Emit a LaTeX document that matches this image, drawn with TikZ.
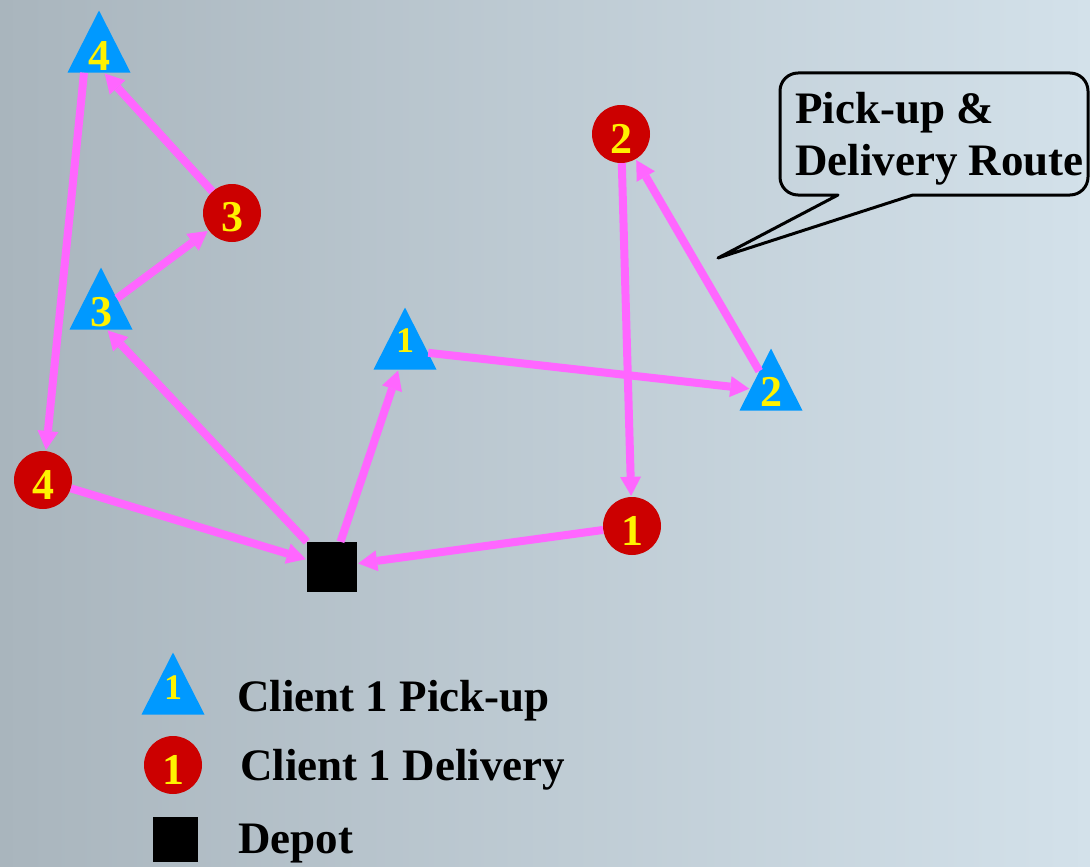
\documentclass[tikz,border=0pt]{standalone}
\usepackage{fontspec}
\setmainfont{Liberation Serif}
\usetikzlibrary{shapes.geometric, arrows.meta}

\definecolor{bgleft}{RGB}{169,181,189}
\definecolor{bgright}{RGB}{211,225,234}
\definecolor{pickblue}{RGB}{0,153,255}
\definecolor{dropred}{RGB}{204,0,0}
\definecolor{routepink}{RGB}{255,102,255}

\tikzset{
  num/.style={text=yellow, inner sep=0pt, font=\bfseries\fontsize{44}{44}\selectfont},
  smallnum/.style={num, font=\bfseries\fontsize{36}{36}\selectfont},
  pickup/.style={isosceles triangle, isosceles triangle stretches, shape border rotate=90,
    minimum width=63pt, minimum height=62pt, inner sep=0pt, fill=pickblue, anchor=apex},
  drop/.style={circle, minimum size=58pt, inner sep=0pt, fill=dropred, num, text height=38pt},
  depotbox/.style={rectangle, minimum size=50pt, inner sep=0pt, fill=black},
  route/.style={draw=routepink, fill=routepink, line width=8pt, shorten >=1pt,
    -{Triangle[length=19pt, width=21pt, line width=0pt]}},
  legend/.style={anchor=base west, inner sep=0pt, font=\bfseries\fontsize{45}{45}\selectfont},
}

\begin{document}
\begin{tikzpicture}[x=1pt, y=-1pt]
    \shade[left color=bgleft, right color=bgright] (0,0) rectangle (1090,867);

    % pick-ups, deliveries and the depot
    \node[pickup, label={[num, anchor=base, yshift=2pt]south:4}] (p4) at (99,10) {};
    \node[pickup, label={[num, anchor=base, yshift=3pt]south:3}] (p3) at (101,267) {};
    \node[pickup, label={[smallnum, anchor=base, yshift=17pt]south:1}] (p1) at (405,307) {};
    \node[pickup, label={[num, anchor=base, yshift=4pt]south:2}] (p2) at (771,348) {};
    \node[drop] (d3) at (232,213) {3};
    \node[drop] (d2) at (621,134) {2};
    \node[drop] (d4) at (43,480) {4};
    \node[drop] (d1) at (632,526) {1};
    \node[depotbox] (depot) at (332,567) {};

    \path[every edge/.style={route}]
      (depot) edge (p1)
      (p1) edge (p2)
      (p2) edge (d2)
      (d2) edge (d1)
      (d1) edge (depot)
      (depot.north west) edge ([xshift=6pt]p3.south)
      (p3) edge (d3)
      (d3) edge ([xshift=5pt]p4.south)
      ([xshift=-15pt]p4.south) edge (d4)
      (d4) edge (depot);

    % callout
    \draw[line width=3pt, line join=round] (838,195) [rounded corners=18pt] -- (780,195) -- (780,73)
      -- (1088,73) -- (1088,195) [sharp corners] -- (913,195) -- (718,258) -- cycle;
    \node[align=left, anchor=north west, inner sep=0pt, font=\bfseries\fontsize{45}{52}\selectfont]
      (callout) at (795,92) {Pick-up \&\\Delivery Route};

    % legend
    \node[pickup, label={[smallnum, anchor=base, yshift=15pt]south:1}] (lp) at (173,652) {};
    \node[drop] (ld) at (173,765) {1};
    \node[depotbox, minimum size=45pt] (lo) at (175,839) {};
    \node[legend] (lp-text) at (237,711) {Client 1 Pick-up};
    \node[legend] (ld-text) at (240,780) {Client 1 Delivery};
    \node[legend] (lo-text) at (238,853) {Depot};
\end{tikzpicture}
\end{document}
